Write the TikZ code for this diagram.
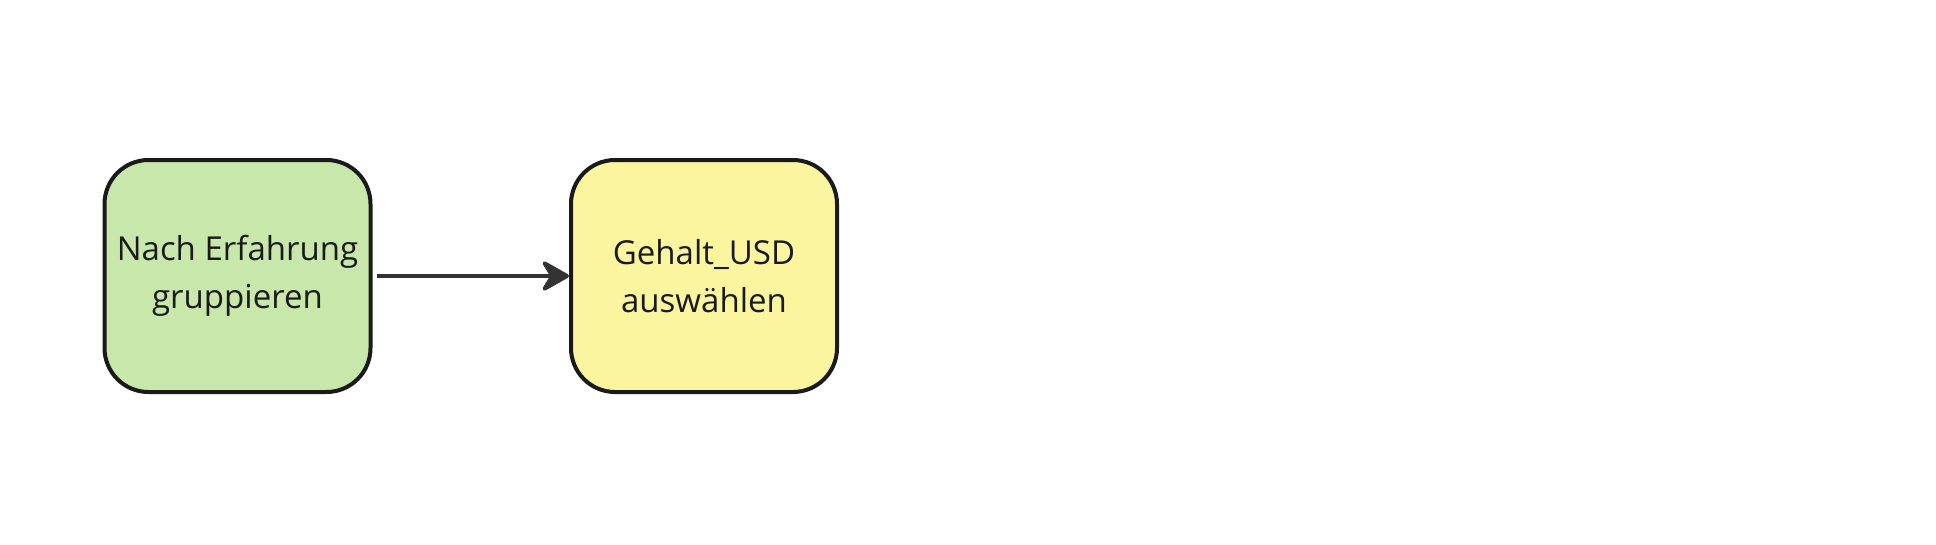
\documentclass[tikz,border=0pt]{standalone}
\usepackage{fontspec}
\setmainfont{Open Sans}
\usetikzlibrary{arrows.meta}
\definecolor{boxgreen}{HTML}{C8E7AA}
\definecolor{boxyellow}{HTML}{FCF59F}
\definecolor{edge}{HTML}{1A1A1A}
\definecolor{arrowc}{HTML}{333333}
\begin{document}
\begin{tikzpicture}[x=1pt,y=-1pt,
  stepbox/.style={draw=edge, line width=4pt, rounded corners=44pt,
    minimum width=266pt, minimum height=232pt, align=center,
    inner sep=0pt, text=edge,
    font=\fontsize{33}{48}\selectfont},
  conn/.style={draw=arrowc, line width=4pt,
    -{Stealth[length=32pt,width=36pt,inset=11pt,round]}}]
\useasboundingbox[fill=white] (0,0) rectangle (1936,544);
\node[stepbox, fill=boxgreen] (a) at (237.5,276) {Nach Erfahrung\\gruppieren};
\node[stepbox, fill=boxyellow] (b) at (704,276) {Gehalt\_USD\\auswählen};
\draw[conn] ([xshift=4pt]a.east) -- (b.west);
\end{tikzpicture}
\end{document}
